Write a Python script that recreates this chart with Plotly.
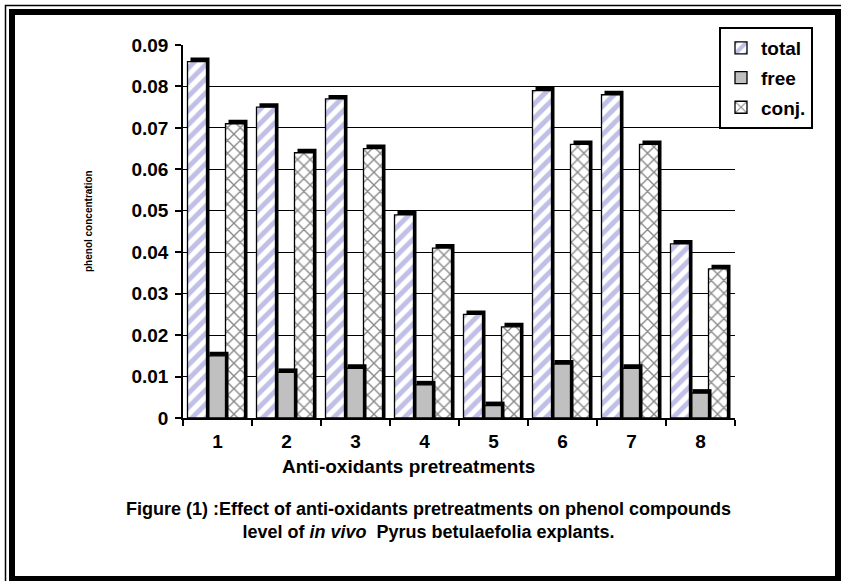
import plotly.graph_objects as go

# ---------------- data ----------------
categories = [1, 2, 3, 4, 5, 6, 7, 8]
total = [0.086, 0.075, 0.077, 0.049, 0.025, 0.079, 0.078, 0.042]
free = [0.015, 0.011, 0.012, 0.008, 0.003, 0.013, 0.012, 0.006]
conj = [0.071, 0.064, 0.065, 0.041, 0.022, 0.066, 0.066, 0.036]
y_ticks = [0, 0.01, 0.02, 0.03, 0.04, 0.05, 0.06, 0.07, 0.08, 0.09]

# ---------------- layout geometry (pixels) ----------------
W, H = 841, 581
L, R, T, B = 183, 735, 45, 418
XR = (0.5, 8.5)
YR = (0, 0.09)
PX_PER_X = (R - L) / (XR[1] - XR[0])
PX_PER_Y = (B - T) / (YR[1] - YR[0])


def px(x):
    return (x - L) / (R - L)


def py(y):
    return (B - y) / (B - T)


FONT = "Liberation Sans, Arial, sans-serif"
bar_w = 19 / PX_PER_X
dx = 3 / PX_PER_X
dy = 4 / PX_PER_Y

series = [
    # name, values, left offset (px from centre), marker
    ("total", total, -30, dict(color="white", pattern=dict(shape="/", fgcolor="#8282d0", bgcolor="white",
                                                             size=10, solidity=0.5, fillmode="overlay"))),
    ("free", free, -11, dict(color="#c0c0c0")),
    ("conj.", conj, 8, dict(color="white", pattern=dict(shape="x", fgcolor="#111111", bgcolor="white",
                                                          size=9, solidity=0.28, fillmode="overlay"))),
]

fig = go.Figure()
# draw in reverse order so each bar's 3-D edge lies over its right neighbour
for rank, (name, vals, off_px, marker) in reversed(list(enumerate(series))):
    off = off_px / PX_PER_X
    fig.add_trace(go.Bar(
        x=categories, y=[v + dy for v in vals], offset=off + dx, width=bar_w,
        marker=dict(color="black", line=dict(width=0)), opacity=1,
        showlegend=False, hoverinfo="skip"))
    m = dict(marker)
    m["line"] = dict(color="black", width=1.3)
    fig.add_trace(go.Bar(
        x=categories, y=vals, offset=off, width=bar_w, name=name,
        marker=m, opacity=1, legendgroup=name, legendrank=rank + 1))

shapes = [
    dict(type="rect", xref="paper", yref="paper", x0=px(5.5), y0=py(5.5), x1=px(860), y1=py(600),
         line=dict(color="black", width=1.5), layer="above"),
    dict(type="rect", xref="paper", yref="paper", x0=px(12), y0=py(12), x1=px(838), y1=py(579),
         line=dict(color="black", width=6), layer="above"),
]

annotations = [
    dict(text="phenol concentration", xref="paper", yref="paper", x=px(88), y=py(221),
         showarrow=False, textangle=-90, font=dict(family=FONT, size=10, color="black", weight="bold"),
         xanchor="center", yanchor="middle"),
    dict(text="Anti-oxidants pretreatments", xref="paper", yref="paper", x=px(408), y=py(466),
         showarrow=False, font=dict(family=FONT, size=19, color="black", weight="bold"),
         xanchor="center", yanchor="middle"),
    dict(text="Figure (1) :Effect of anti-oxidants pretreatments on phenol compounds<br>"
              "level of <i>in vivo</i>  Pyrus betulaefolia explants.",
         xref="paper", yref="paper", x=px(428), y=py(520), align="center",
         showarrow=False, font=dict(family=FONT, size=18, color="black", weight="bold"),
         xanchor="center", yanchor="middle"),
]

fig.update_layout(
    width=W, height=H,
    margin=dict(l=L, r=W - R, t=T, b=H - B, autoexpand=False),
    paper_bgcolor="white", plot_bgcolor="white",
    barmode="overlay",
    font=dict(family=FONT, color="black"),
    xaxis=dict(range=list(XR), tickmode="array", tickvals=categories,
               ticktext=[str(c) for c in categories], ticks="", ticklabelstandoff=5,
               showgrid=False, zeroline=False, showline=True, linecolor="black", linewidth=1.5,
               tickfont=dict(family=FONT, size=19, color="black", weight="bold"),
               minor=dict(tickmode="array", tickvals=[c - 0.5 for c in categories] + [categories[-1] + 0.5],
                          ticks="outside", ticklen=6, tickwidth=1.5, tickcolor="black", showgrid=False)),
    yaxis=dict(range=list(YR), tickmode="array", tickvals=y_ticks,
               ticktext=["0" if v == 0 else f"{v:.2f}" for v in y_ticks],
               ticks="outside", ticklen=6, tickwidth=1.5, tickcolor="black", ticklabelstandoff=3,
               showgrid=True, gridcolor="black", gridwidth=1, zeroline=False,
               showline=True, linecolor="black", linewidth=1.5,
               tickfont=dict(family=FONT, size=19, color="black", weight="bold")),
    legend=dict(x=px(719), y=py(27), xanchor="left", yanchor="top",
                bgcolor="white", bordercolor="black", borderwidth=2,
                font=dict(family=FONT, size=19, color="black", weight="bold"),
                traceorder="grouped", tracegroupgap=2, itemwidth=30, entrywidth=62),
    shapes=shapes, annotations=annotations,
)

fig.write_html("out.html")
